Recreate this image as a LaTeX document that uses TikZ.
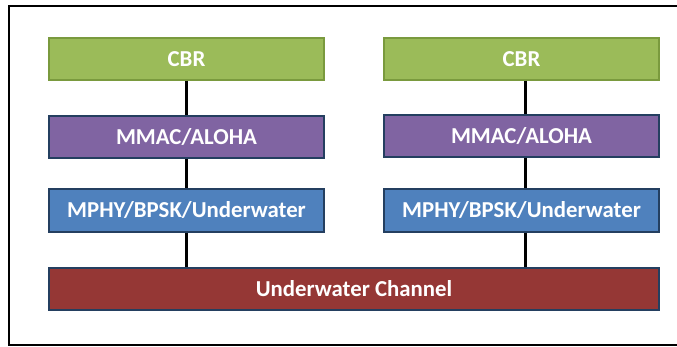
\documentclass[tikz,border=0pt]{standalone}
\usepackage{fontspec}
\setmainfont{Carlito}
\definecolor{cbrgreen}{HTML}{9BBB59}
\definecolor{cbredge}{HTML}{7A9A3E}
\definecolor{macpurple}{HTML}{8064A2}
\definecolor{phyblue}{HTML}{4F81BD}
\definecolor{chred}{HTML}{953735}
\definecolor{navyedge}{HTML}{243F60}
\begin{document}
\begin{tikzpicture}[x=1pt,y=-1pt,
  layer/.style={minimum width=275pt,minimum height=42pt,inner sep=0pt,
    text=white,font=\bfseries\fontsize{22.8}{26}\selectfont,line width=1.2pt},
  cbrbox/.style={layer,fill=cbrgreen,draw=cbredge},
  macbox/.style={layer,fill=macpurple,draw=navyedge},
  phybox/.style={layer,fill=phyblue,draw=navyedge,minimum height=43pt},
  chbox/.style={layer,fill=chred,draw=navyedge,minimum width=610pt},
  link/.style={line width=3.2pt,black}]
\useasboundingbox (0,0) rectangle (677,347);
\draw[line width=1.8pt] (690,6) -- (9,6) -- (9,345) -- (690,345);
\node[cbrbox] (c1) at (186.5,59) {CBR};
\node[macbox] (m1) at (186.5,137) {MMAC/ALOHA};
\node[phybox] (p1) at (186.5,210.5) {MPHY/BPSK/Underwater};
\node[cbrbox] (c2) at (521.5,59) {CBR};
\node[macbox] (m2) at (521.5,136) {MMAC/ALOHA};
\node[phybox] (p2) at (521.5,210.5) {MPHY/BPSK/Underwater};
\node[chbox] (ch) at (354,289) {Underwater Channel};
\draw[link] (c1.south) -- (m1.north);
\draw[link] (m1.south) -- (p1.north);
\draw[link] (p1.south) -- (p1.south |- ch.north);
\draw[link] ([xshift=4pt]c2.south) -- ([xshift=4pt]m2.north);
\draw[link] ([xshift=4pt]m2.south) -- ([xshift=4pt]p2.north);
\draw[link] ([xshift=4pt]p2.south) -- ([xshift=4pt]p2.south |- ch.north);
\end{tikzpicture}
\end{document}
